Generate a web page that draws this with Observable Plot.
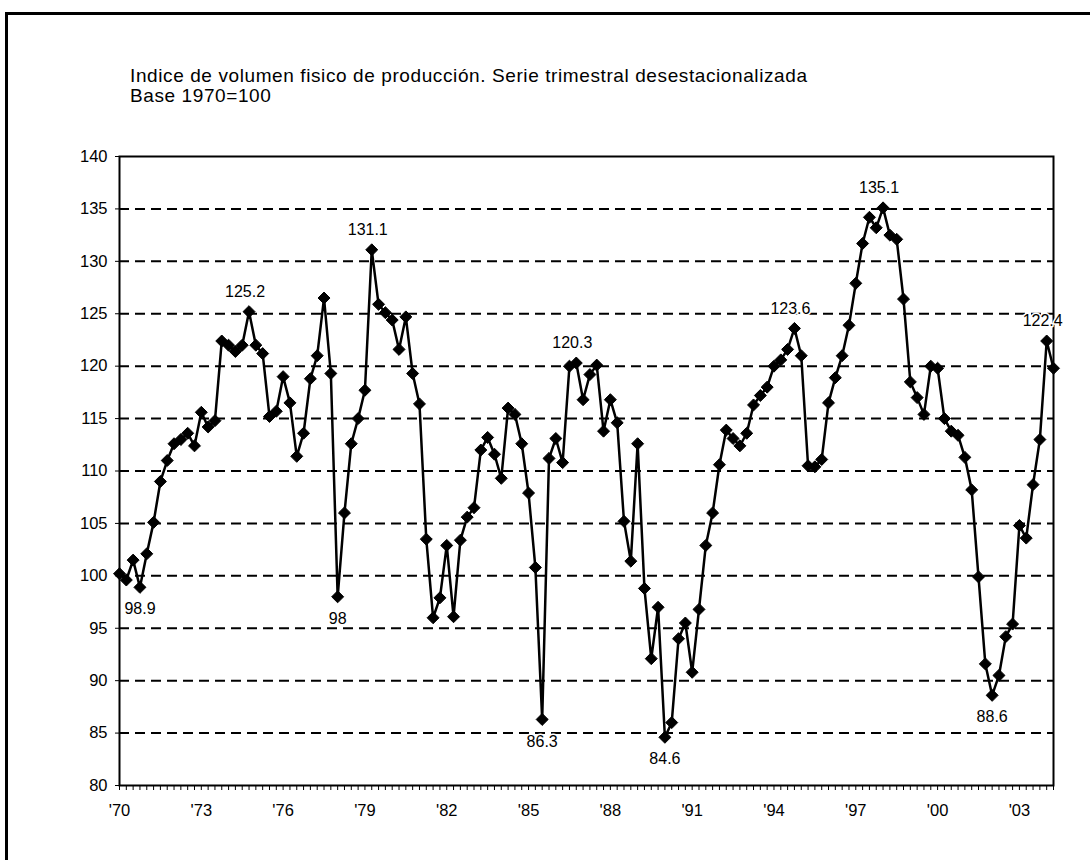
<!DOCTYPE html>
<html><head><meta charset="utf-8">
<script src="https://cdn.jsdelivr.net/npm/d3@7"></script>
<script src="https://cdn.jsdelivr.net/npm/@observablehq/plot@0.6"></script>
<style>
body{margin:0;background:#fff;}
#wrap{position:relative;width:1090px;height:860px;overflow:hidden;font-family:"Liberation Sans",Arial,sans-serif;}
#frame{position:absolute;left:5px;top:12px;width:1100px;height:900px;border-left:3px solid #000;border-top:3px solid #000;}
.t{position:absolute;left:130px;font-size:19px;letter-spacing:0.6px;color:#000;white-space:nowrap;}
#chart{position:absolute;left:0;top:0;}
</style></head><body>
<div id="wrap"><div id="frame"></div>
<div class="t" style="top:65px">Indice de volumen fisico de producción. Serie trimestral desestacionalizada</div>
<div class="t" style="top:85px">Base 1970=100</div>
<div id="chart"></div></div>
<script>
const startYear = 1970;
const values = [
100.2,99.6,101.5,98.9,102.1,105.1,109.0,111.0,112.6,113.0,113.6,112.4,
115.6,114.2,114.8,122.4,122.0,121.4,122.0,125.2,122.0,121.2,115.2,115.7,
119.0,116.5,111.4,113.6,118.8,121.0,126.5,119.3,98.0,106.0,112.6,115.0,
117.7,131.1,125.9,125.1,124.4,121.6,124.7,119.3,116.4,103.5,96.0,97.9,
102.9,96.1,103.4,105.6,106.5,112.0,113.2,111.6,109.3,116.0,115.4,112.6,
107.9,100.8,86.3,111.2,113.1,110.8,120.0,120.3,116.8,119.2,120.1,113.8,
116.8,114.6,105.2,101.4,112.6,98.8,92.1,97.0,84.6,86.0,94.0,95.5,
90.8,96.8,102.9,106.0,110.6,113.9,113.1,112.4,113.6,116.3,117.2,118.0,
120.0,120.6,121.6,123.6,121.0,110.5,110.4,111.1,116.5,118.9,121.0,123.9,
127.9,131.7,134.2,133.2,135.1,132.5,132.1,126.4,118.5,117.0,115.4,120.0,
119.8,115.0,113.8,113.4,111.3,108.2,99.9,91.6,88.6,90.5,94.2,95.4,
104.8,103.6,108.7,113.0,122.4,119.8
];
const tickLabels = ["'70","'73","'76","'79","'82","'85","'88","'91","'94","'97","'00","'03"];
const yTicks = [80,85,90,95,100,105,110,115,120,125,130,135,140];
const labelIdx = [3,19,32,37,62,67,80,99,112,128,136];
const labelSide = ["below","above","below","above","below","above","below","above","above","below","above"];

const rows = values.map((v,i)=>({i, value:v, year: startYear + Math.floor(i/4), q: i%4+1}));
const labels = labelIdx.map((i,k)=>({i, value: values[i], side: labelSide[k], text: String(values[i])}));

const chart = Plot.plot({
  width:1090, height:860,
  marginTop:156, marginBottom:75, marginLeft:119, marginRight:37,
  style:{fontFamily:"Liberation Sans, Arial, sans-serif", fontSize:"16px", color:"#000", background:"transparent"},
  x:{domain:[0, values.length-1]},
  y:{domain:[80,140]},
  marks:[
    Plot.ruleY(yTicks.filter(v=>v>80 && v<140), {stroke:"#000", strokeWidth:2, strokeDasharray:"10,6"}),
    Plot.axisY(yTicks, {tickSize:4, tickPadding:8, fontSize:16.5, label:null}),
    Plot.axisX(d3.range(0, values.length), {tickSize:5, tickPadding:14, fontSize:16.5, label:null,
      tickFormat: i => i%12===0 ? tickLabels[i/12] : ""}),
    Plot.frame({stroke:"#000", strokeWidth:2}),
    Plot.line(rows, {x:"i", y:"value", stroke:"#000", strokeWidth:2.5}),
    Plot.dot(rows, {x:"i", y:"value", symbol:"diamond2", r:5.4, fill:"#000", stroke:"#000", strokeWidth:1}),
    Plot.text(labels.filter(d=>d.side==="above"), {x:"i", y:"value", text:"text", dy:-20, dx:-4, fontSize:16, fill:"#000", stroke:"#fff", strokeWidth:3, paintOrder:"stroke"}),
    Plot.text(labels.filter(d=>d.side==="below"), {x:"i", y:"value", text:"text", dy:22, dx:0, fontSize:16, fill:"#000", stroke:"#fff", strokeWidth:3, paintOrder:"stroke"})
  ]
});
document.getElementById("chart").appendChild(chart);
</script>
</body></html>
